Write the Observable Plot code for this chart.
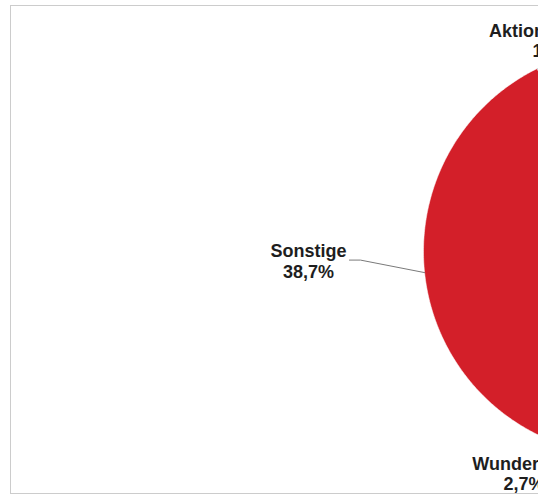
<!DOCTYPE html>
<html><head><meta charset="utf-8">
<script src="https://cdn.jsdelivr.net/npm/d3@7"></script>
<script src="https://cdn.jsdelivr.net/npm/@observablehq/plot@0.6"></script>
<style>html,body{margin:0;padding:0;overflow:hidden;background:#fff}</style>
</head><body><div id="chart"></div>
<script>
// ---- data (clockwise from 12 o'clock) ----
const categories = ["Weitere", "Wunderland", "Sonstige", "Aktion Mensch", "Übrige"];
const shares = [51.3, 2.7, 38.7, 1.5, 5.8];
const shareLabels = ["", "2,7%", "38,7%", "1,5%", ""];
const sliceColors = ["#9a9a9a", "#e8a33a", "#d31f29", "#3f8f95", "#c2c2c2"];

// ---- layout (pixels / radius units) ----
const W = 760, H = 496, CX = 627, CY = 251, R = 204;
const labelOffsets = {
  "Sonstige": [-1.564, -0.047],
  "Aktion Mensch": [-0.365, 1.034],
  "Wunderland": [-0.507, -1.088]
};
const leaders = { "Sonstige": { gap: 41, run: 11 } };

const arcs = d3.pie().sort(null).startAngle(0).endAngle(2 * Math.PI)(shares);
const slices = arcs.map((a, i) => {
  const pts = [{ x: 0, y: 0 }];
  const n = Math.max(2, Math.ceil((a.endAngle - a.startAngle) / (Math.PI / 360)));
  for (let k = 0; k <= n; k++) {
    const t = a.startAngle + (a.endAngle - a.startAngle) * k / n;
    pts.push({ x: Math.sin(t), y: Math.cos(t) });
  }
  pts.push({ x: 0, y: 0 });
  return { name: categories[i], color: sliceColors[i], label: shareLabels[i], pts, mid: (a.startAngle + a.endAngle) / 2 };
});

const labels = slices.filter(s => labelOffsets[s.name]).map(s => ({
  x: labelOffsets[s.name][0], y: labelOffsets[s.name][1], text: s.name + "\n" + s.label
}));

const leaderMarks = slices.filter(s => leaders[s.name]).map(s => {
  const [lx, ly] = labelOffsets[s.name];
  const L = leaders[s.name];
  const pts = [
    { x: lx + L.gap / R, y: ly + 1 / R },
    { x: lx + (L.gap + L.run) / R, y: ly + 1 / R },
    { x: Math.sin(s.mid), y: Math.cos(s.mid) }
  ];
  return Plot.line(pts, { x: "x", y: "y", stroke: "#7a7a7a", strokeWidth: 1 });
});

const chart = Plot.plot({
  width: W, height: H,
  marginLeft: 10, marginTop: 5, marginBottom: 3, marginRight: 10,
  x: { domain: [-CX / R, (W - CX) / R], range: [0, W], axis: null },
  y: { domain: [(CY - H) / R, CY / R], range: [H, 0], axis: null },
  style: { maxWidth: "none", background: "#fff", overflow: "hidden" },
  marks: [
    Plot.frame({ stroke: "#999", strokeDasharray: "1,1" }),
    ...slices.map(s => Plot.line(s.pts, { x: "x", y: "y", fill: s.color, stroke: "white", strokeWidth: 0.5 })),
    ...leaderMarks,
    Plot.text(labels, {
      x: "x", y: "y", text: "text",
      fontFamily: "Liberation Sans, Arial, sans-serif", fontSize: 18, fontWeight: "bold",
      lineHeight: 1.12, fill: "#1e1e1e", textAnchor: "middle", lineAnchor: "middle"
    })
  ]
});
document.getElementById("chart").appendChild(chart);
</script>
</body></html>
